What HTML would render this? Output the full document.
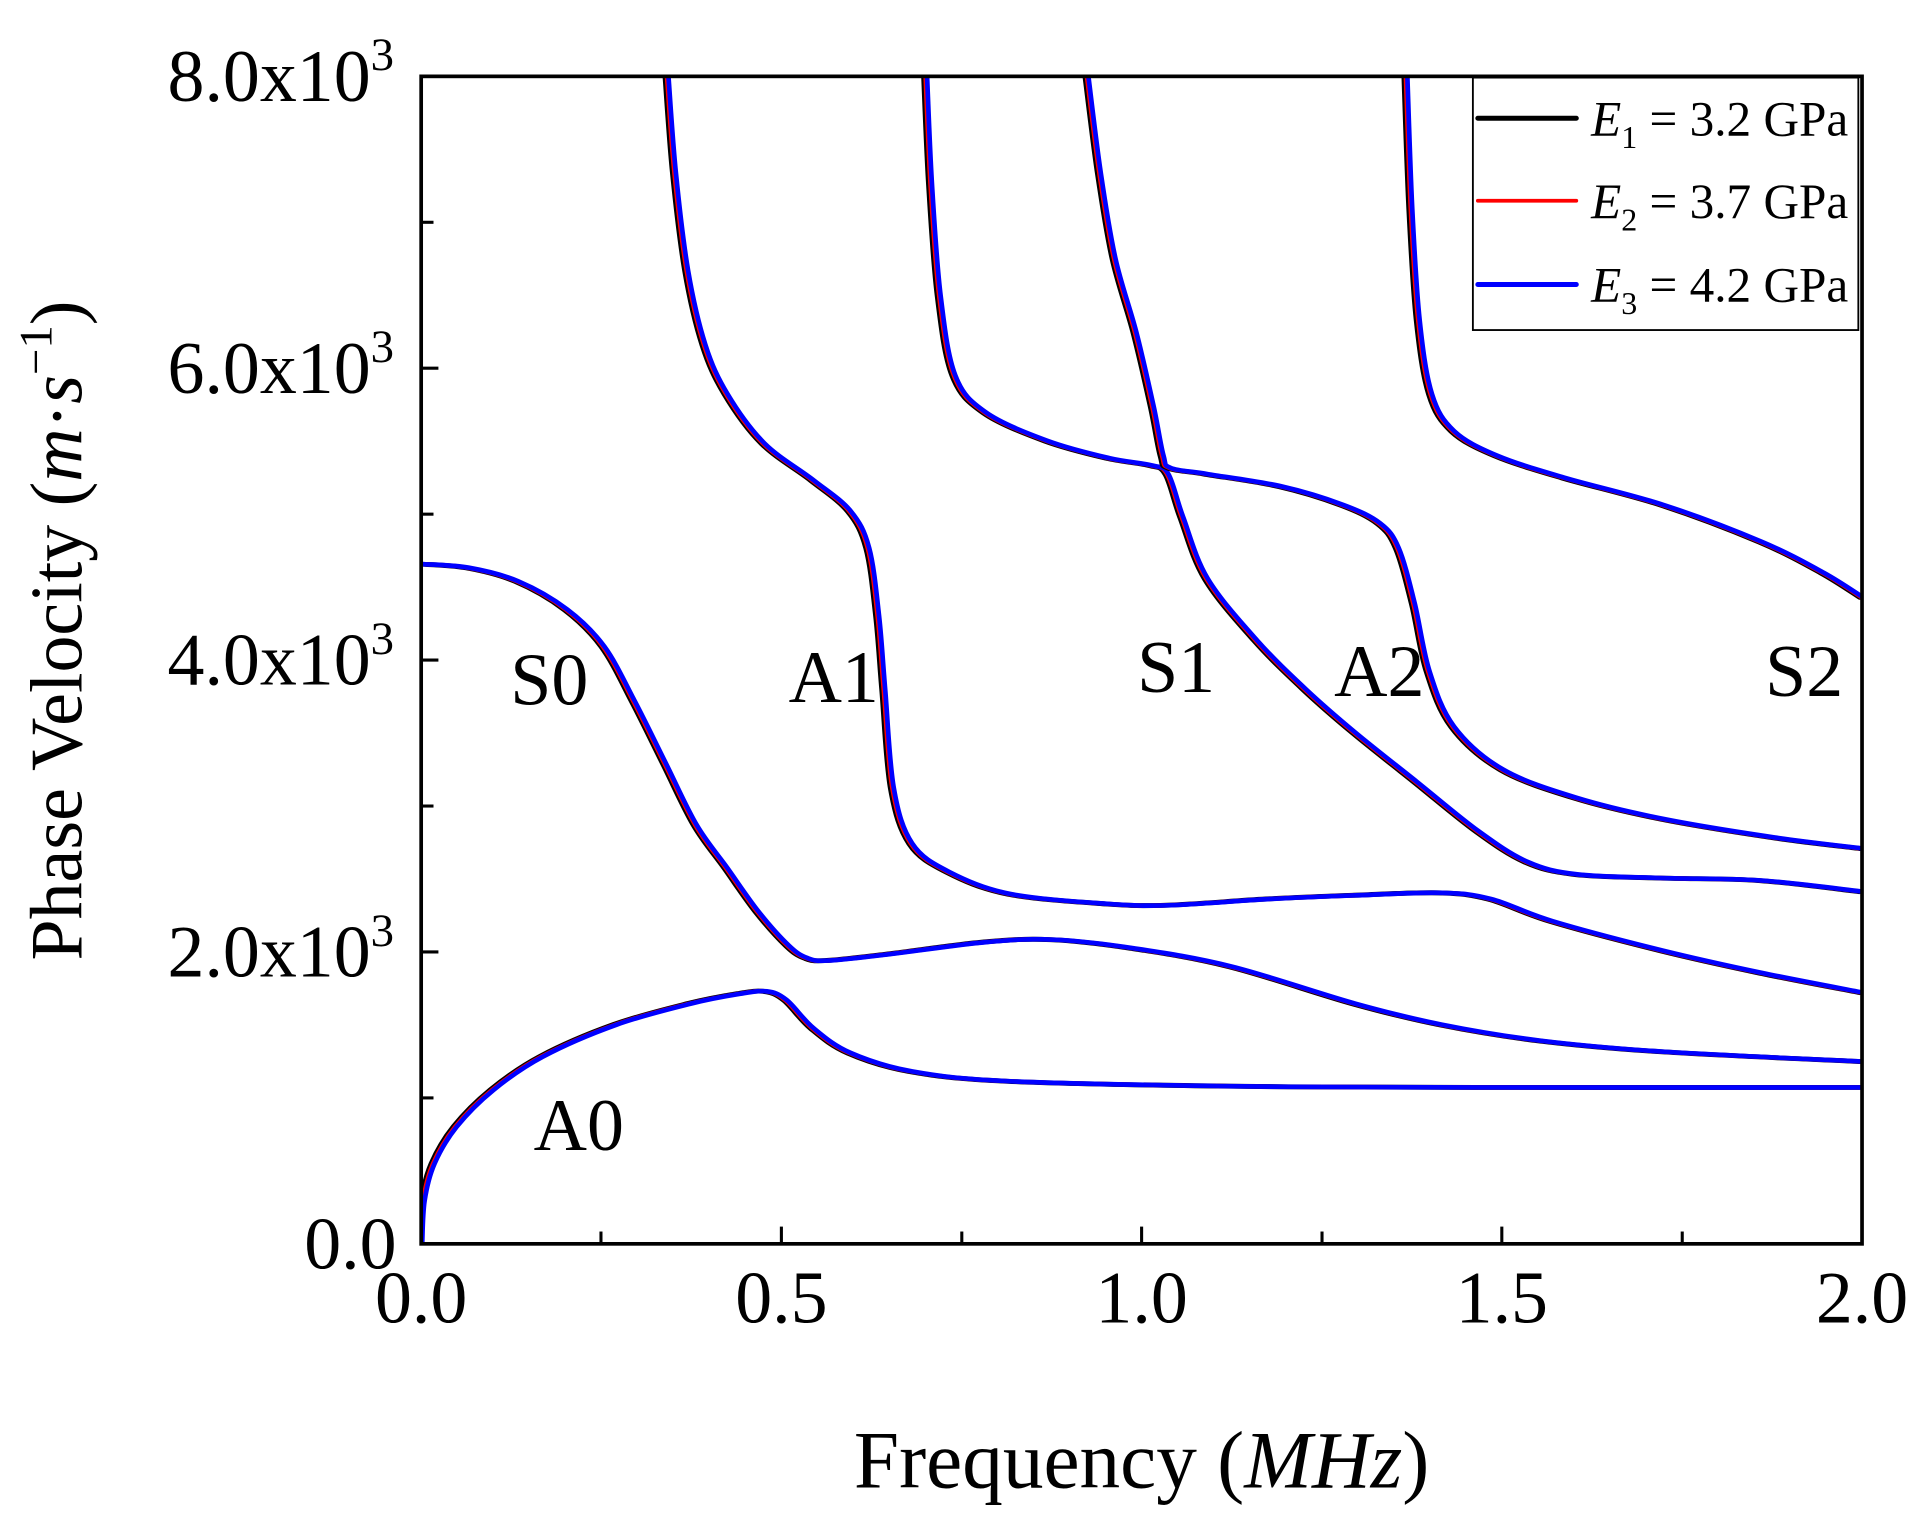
<!DOCTYPE html>
<html><head><style>html,body{margin:0;padding:0;background:#fff}svg{display:block}</style></head>
<body>
<svg id="s" width="1931" height="1525" viewBox="0 0 1568 1238.3" preserveAspectRatio="none" xmlns="http://www.w3.org/2000/svg" font-family="Liberation Serif, serif">
<defs><clipPath id="c"><rect x="342" y="62" width="1170" height="948"/></clipPath></defs>
<g id="curves" clip-path="url(#c)" fill="none" stroke-linejoin="round" stroke-linecap="round"></g>
<rect x="342" y="62" width="1170" height="948" fill="none" stroke="#000" stroke-width="3"/>
<g stroke="#000" stroke-width="2.5">
<line x1="342" y1="180.5" x2="352" y2="180.5"/><line x1="342" y1="299" x2="356" y2="299"/>
<line x1="342" y1="417.5" x2="352" y2="417.5"/><line x1="342" y1="536" x2="356" y2="536"/>
<line x1="342" y1="654.5" x2="352" y2="654.5"/><line x1="342" y1="773" x2="356" y2="773"/>
<line x1="342" y1="891.5" x2="352" y2="891.5"/>
<line x1="488" y1="1010" x2="488" y2="1000"/><line x1="634.5" y1="1010" x2="634.5" y2="996"/>
<line x1="781" y1="1010" x2="781" y2="1000"/><line x1="927" y1="1010" x2="927" y2="996"/>
<line x1="1073.5" y1="1010" x2="1073.5" y2="1000"/><line x1="1219.5" y1="1010" x2="1219.5" y2="996"/>
<line x1="1366" y1="1010" x2="1366" y2="1000"/>
</g>
<g font-size="60" text-anchor="end" fill="#000">
<text x="320" y="82">8.0x10<tspan font-size="38" dy="-25">3</tspan></text>
<text x="320" y="319">6.0x10<tspan font-size="38" dy="-25">3</tspan></text>
<text x="320" y="556">4.0x10<tspan font-size="38" dy="-25">3</tspan></text>
<text x="320" y="793">2.0x10<tspan font-size="38" dy="-25">3</tspan></text>
<text x="322" y="1030">0.0</text>
</g>
<g font-size="60" text-anchor="middle" fill="#000">
<text x="342" y="1074">0.0</text><text x="634.5" y="1074">0.5</text><text x="927" y="1074">1.0</text>
<text x="1219.5" y="1074">1.5</text><text x="1512" y="1074">2.0</text>
</g>
<text x="927" y="1208" font-size="66" text-anchor="middle">Frequency (<tspan font-style="italic">MHz</tspan>)</text>
<text transform="translate(66,512) rotate(-90)" font-size="60" text-anchor="middle">Phase Velocity (<tspan font-style="italic">m</tspan>·<tspan font-style="italic">s</tspan><tspan font-size="38" dy="-24">−1</tspan><tspan dy="24">)</tspan></text>
<g font-size="60" text-anchor="middle">
<text x="446" y="572">S0</text><text x="677" y="570">A1</text><text x="955" y="562">S1</text>
<text x="1120" y="565">A2</text><text x="1465" y="565">S2</text><text x="470" y="934">A0</text>
</g>
<rect x="1196" y="63" width="313" height="205" fill="#fff" stroke="#000" stroke-width="1.5"/>
<g stroke-width="4" stroke-linecap="round">
<line x1="1200" y1="96" x2="1280" y2="96" stroke="#000"/>
<line x1="1200" y1="163" x2="1280" y2="163" stroke="#f00" stroke-width="3"/>
<line x1="1200" y1="231" x2="1280" y2="231" stroke="#00f"/>
</g>
<g font-size="40">
<text x="1292" y="110"><tspan font-style="italic">E</tspan><tspan font-size="26" dy="10">1</tspan><tspan dy="-10"> = 3.2 GPa</tspan></text>
<text x="1292" y="177"><tspan font-style="italic">E</tspan><tspan font-size="26" dy="10">2</tspan><tspan dy="-10"> = 3.7 GPa</tspan></text>
<text x="1292" y="245"><tspan font-style="italic">E</tspan><tspan font-size="26" dy="10">3</tspan><tspan dy="-10"> = 4.2 GPa</tspan></text>
</g>
</svg>
<script>
(function(){
var C=[
[[342,1010],[344,975],[352,945],[370,915],[400,885],[440,858],[500,832],[560,815],[600,807],[622,805],[638,812],[660,835],[690,855],[740,870],[820,878],[1000,882],[1200,883],[1512,883]],
[[342,458],[380,461],[420,472],[460,495],[490,525],[515,570],[540,620],[565,670],[590,705],[615,740],[640,768],[655,778],[672,780],[720,775],[800,765],[855,763],[920,770],[1000,785],[1100,815],[1170,832],[1250,845],[1350,854],[1512,862]],
[[542,62],[548,140],[558,220],[572,280],[590,320],[620,360],[660,390],[690,415],[705,445],[713,500],[718,560],[725,640],[740,685],[770,708],[820,726],[900,734],[950,735],[1030,730],[1100,727],[1170,725],[1210,730],[1260,748],[1350,772],[1430,790],[1512,806]],
[[752,62],[756,150],[763,240],[775,305],[800,335],[850,358],[900,372],[935,378],[948,385],[960,420],[980,470],[1020,520],[1060,560],[1100,595],[1150,635],[1200,675],[1240,700],[1280,710],[1350,713],[1430,715],[1512,724]],
[[883,62],[893,140],[905,210],[922,270],[936,330],[944,370],[950,380],[980,385],[1040,395],[1090,410],[1120,425],[1135,445],[1148,490],[1160,545],[1180,590],[1220,625],[1280,648],[1350,665],[1440,680],[1512,689]],
[[1142,62],[1146,170],[1152,260],[1162,320],[1180,350],[1215,370],[1270,388],[1350,410],[1430,440],[1480,465],[1512,485]]];
function path(p,dx){var d="M"+(p[0][0]+dx)+","+p[0][1];for(var i=0;i<p.length-1;i++){var a=p[i-1]||p[i],b=p[i],c=p[i+1],e=p[i+2]||c;
d+="C"+(b[0]+(c[0]-a[0])/6+dx)+","+(b[1]+(c[1]-a[1])/6)+" "+(c[0]-(e[0]-b[0])/6+dx)+","+(c[1]-(e[1]-b[1])/6)+" "+(c[0]+dx)+","+c[1];}return d;}
var NS="http://www.w3.org/2000/svg";
var g=document.getElementById("curves");
function add(d,col,w){var el=document.createElementNS(NS,"path");el.setAttribute("d",d);el.setAttribute("stroke",col);el.setAttribute("stroke-width",w);g.appendChild(el);}
for(var k=0;k<C.length;k++){add(path(C[k],-2),"#000",4);add(path(C[k],-0.5),"#f00",3.5);add(path(C[k],0.8),"#00f",3.8);}
})();
</script>
</body></html>
